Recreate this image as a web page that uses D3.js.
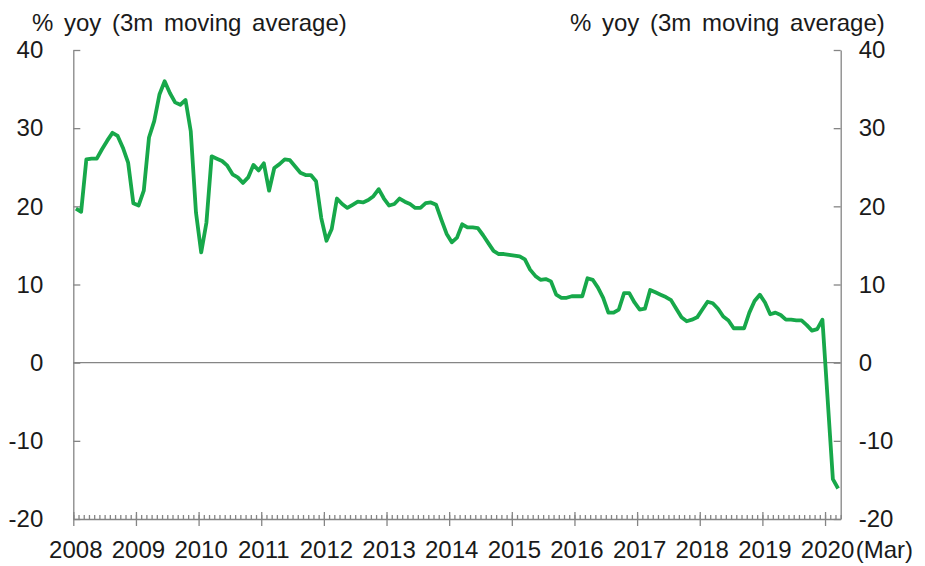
<!DOCTYPE html>
<html>
<head>
<meta charset="utf-8">
<script src="https://cdn.jsdelivr.net/npm/d3@7"></script>
<style>
  html, body { margin: 0; padding: 0; background: #fff; }
  svg { display: block; }
  text { font-family: "Liberation Sans", Arial, sans-serif; fill: #1a1a1a; }
</style>
</head>
<body>
<svg id="chart" width="925" height="566"></svg>
<script>
// ---- Data (monthly, Jan 2008 .. Mar 2020) ----
const startYear = 2008;
const values = [
  19.7, 19.3, 26.0, 26.1, 26.1, 27.3, 28.4, 29.4, 29.0, 27.5, 25.6, 20.4, // 2008
  20.1, 22.0, 28.8, 30.9, 34.3, 36.0, 34.5, 33.3, 33.0, 33.6, 29.6, 19.2, // 2009
  14.1, 17.9, 26.4, 26.1, 25.8, 25.2, 24.1, 23.7, 23.0, 23.7, 25.3, 24.6, // 2010
  25.5, 22.0, 24.9, 25.4, 26.0, 25.9, 25.1, 24.3, 24.0, 24.0, 23.2, 18.5, // 2011
  15.6, 17.1, 21.0, 20.3, 19.8, 20.2, 20.6, 20.5, 20.8, 21.3, 22.2, 21.0, // 2012
  20.1, 20.3, 21.0, 20.6, 20.3, 19.8, 19.8, 20.4, 20.5, 20.2, 18.3, 16.5, // 2013
  15.4, 16.0, 17.7, 17.3, 17.3, 17.2, 16.3, 15.3, 14.3, 13.9, 13.9, 13.8, // 2014
  13.7, 13.6, 13.2, 11.9, 11.1, 10.6, 10.7, 10.4, 8.7, 8.3, 8.3, 8.5,     // 2015
  8.5, 8.5, 10.8, 10.6, 9.6, 8.3, 6.4, 6.4, 6.8, 8.9, 8.9, 7.7,           // 2016
  6.8, 6.9, 9.3, 9.0, 8.7, 8.4, 8.0, 6.9, 5.8, 5.3, 5.5, 5.8,             // 2017
  6.8, 7.8, 7.6, 6.9, 5.9, 5.4, 4.4, 4.4, 4.4, 6.4, 7.9, 8.7,             // 2018
  7.7, 6.2, 6.4, 6.1, 5.5, 5.5, 5.4, 5.4, 4.8, 4.1, 4.3, 5.5,             // 2019
  -4.7, -14.9, -16.1                                                       // 2020 (Jan-Mar)
];
const yearLabels = ["2008","2009","2010","2011","2012","2013","2014","2015","2016","2017","2018","2019","2020"];
const yTicks = [-20, -10, 0, 10, 20, 30, 40];
const axisTitle = "% yoy (3m moving average)";
const endNote = "(Mar)";

// ---- Layout ----
const svg = d3.select("#chart");
const plotLeft = 73.3, plotRight = 840.7, plotTop = 50, plotBottom = 519;
const axisColor = "#858585";
const lineColor = "#17a84a";
const nMonths = values.length; // 147
const fmt = d => String(d); // plain hyphen-minus like the reference

const x = d3.scaleLinear().domain([0, nMonths]).range([plotLeft, plotRight]);
const y = d3.scaleLinear().domain([-20, 40]).range([plotBottom, plotTop]);

// zero line
svg.append("line")
  .attr("x1", plotLeft).attr("x2", plotRight)
  .attr("y1", y(0)).attr("y2", y(0))
  .attr("stroke", axisColor).attr("stroke-width", 1.3);

// left axis
const gL = svg.append("g").attr("transform", `translate(${plotLeft},0)`)
  .call(d3.axisLeft(y).tickValues(yTicks).tickSize(-7).tickSizeOuter(0).tickPadding(30).tickFormat(fmt));
// right axis
const gR = svg.append("g").attr("transform", `translate(${plotRight},0)`)
  .call(d3.axisRight(y).tickValues(yTicks).tickSize(-7).tickSizeOuter(0).tickPadding(18).tickFormat(fmt));

// minor (monthly) ticks
const monthIdx = d3.range(0, nMonths + 1);
const gMinor = svg.append("g").attr("transform", `translate(0,${plotBottom})`)
  .call(d3.axisTop(x).tickValues(monthIdx).tickSize(4).tickSizeOuter(0).tickFormat(""));
gMinor.select(".domain").remove();

// major (year) ticks + labels
const yearIdx = yearLabels.map((_, i) => i * 12);
const gX = svg.append("g").attr("transform", `translate(0,${plotBottom})`)
  .call(d3.axisBottom(x).tickValues(yearIdx).tickSize(7).tickSizeOuter(0).tickPadding(15)
    .tickFormat((d, i) => yearLabels[i]));
gX.selectAll(".tick line").attr("y1", -7);
gX.selectAll(".tick text").attr("dx", 2);

[gL, gR, gMinor, gX].forEach(g => {
  g.selectAll("path.domain").attr("stroke", axisColor).attr("stroke-width", 1.3);
  g.selectAll(".tick line").attr("stroke", axisColor).attr("stroke-width", 1.3);
  g.selectAll(".tick text").attr("font-size", 24).attr("fill", "#1a1a1a")
    .attr("font-family", "'Liberation Sans', Arial, sans-serif");
});

// (Mar) note
svg.append("text")
  .attr("x", x(nMonths) + 15).attr("y", 558)
  .attr("font-size", 24)
  .text(endNote);

// axis titles
svg.append("text").attr("x", 32).attr("y", 31)
  .attr("font-size", 24).attr("word-spacing", 4).text(axisTitle);
svg.append("text").attr("x", 570).attr("y", 31)
  .attr("font-size", 24).attr("word-spacing", 4).text(axisTitle);

// series line
const line = d3.line()
  .x((d, i) => x(i + 0.5))
  .y(d => y(d));
svg.append("path")
  .datum(values)
  .attr("fill", "none")
  .attr("stroke", lineColor)
  .attr("stroke-width", 3.8)
  .attr("stroke-linejoin", "round")
  .attr("d", line);
</script>
</body>
</html>
